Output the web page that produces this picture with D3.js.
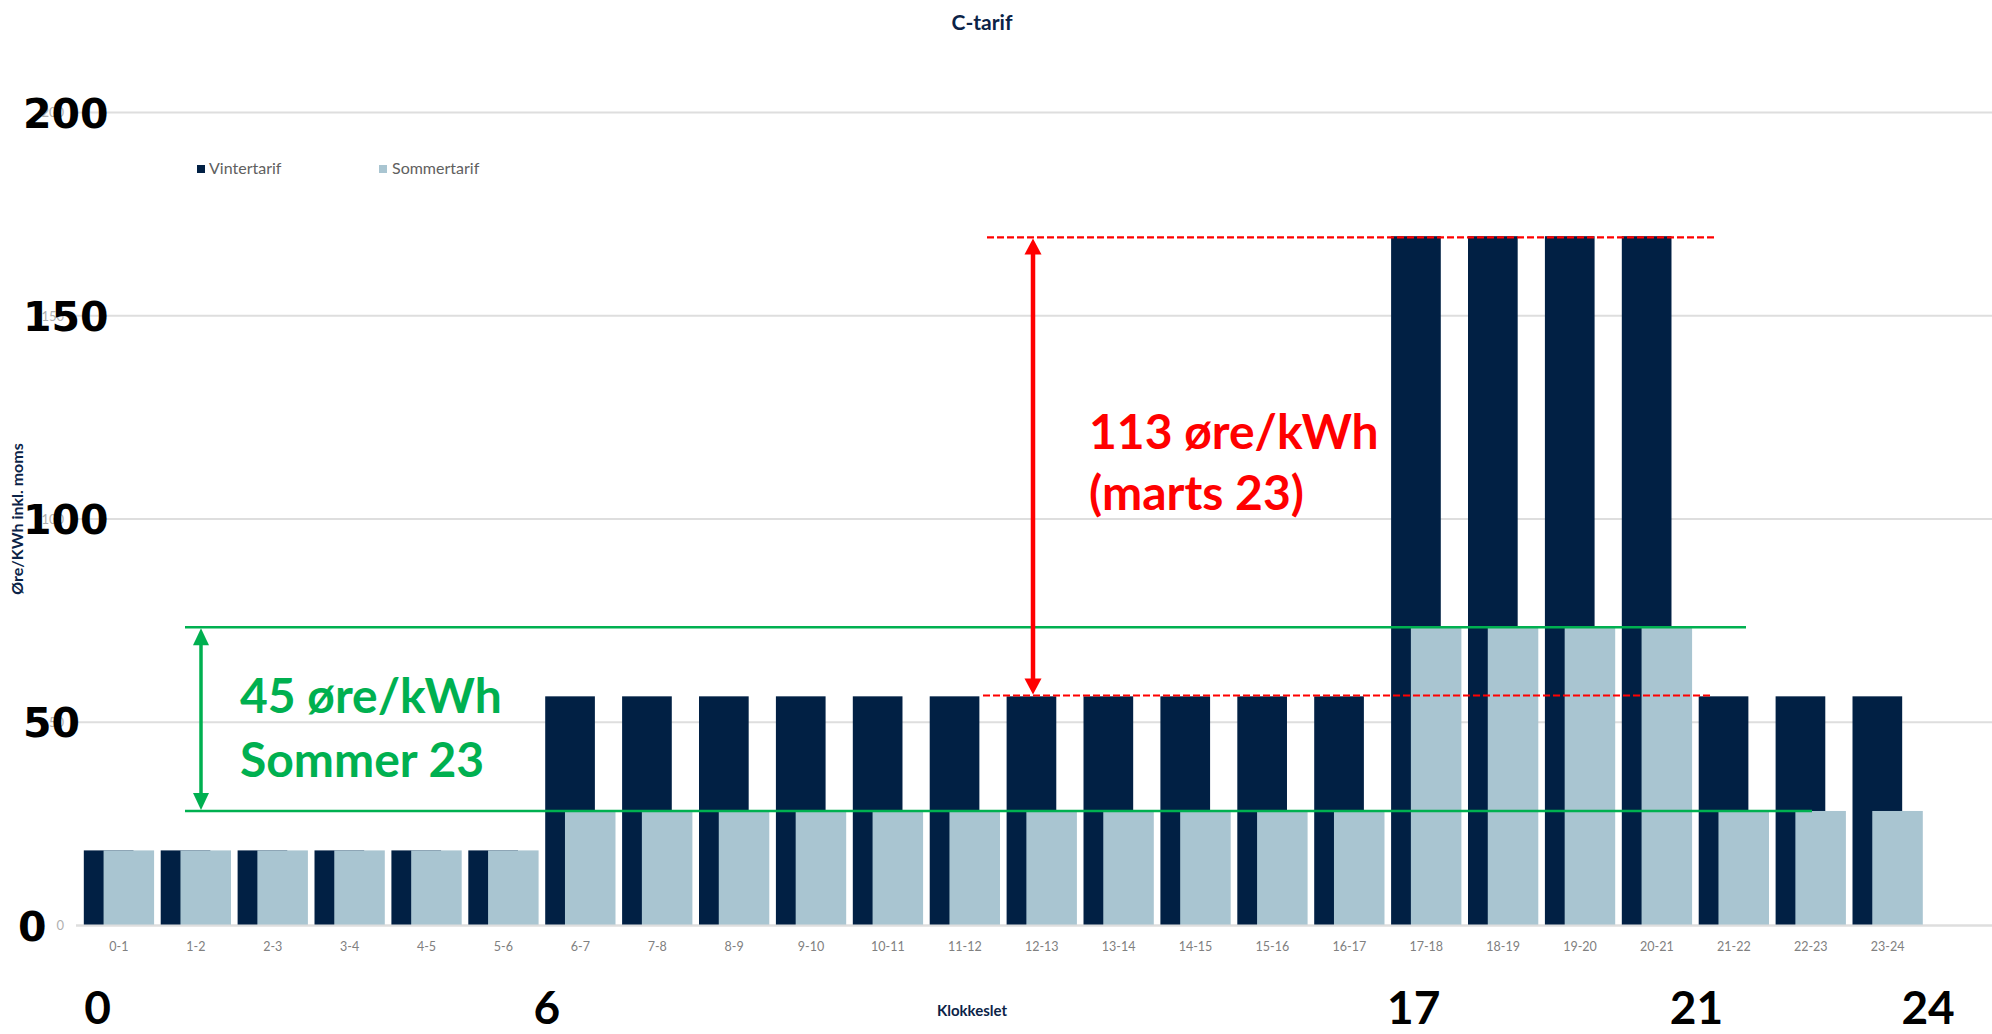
<!DOCTYPE html>
<html>
<head>
<meta charset="utf-8">
<script src="https://cdn.jsdelivr.net/npm/d3@7"></script>
<style>
  html, body { margin: 0; padding: 0; background: #ffffff; }
  svg { display: block; }
</style>
</head>
<body>
<script>
// ---------- DATA ----------
const categories = ["0-1","1-2","2-3","3-4","4-5","5-6","6-7","7-8","8-9","9-10","10-11","11-12",
                    "12-13","13-14","14-15","15-16","16-17","17-18","18-19","19-20","20-21","21-22","22-23","23-24"];
const vintertarif = [18.5, 18.5, 18.5, 18.5, 18.5, 18.5,
                     56.4, 56.4, 56.4, 56.4, 56.4, 56.4, 56.4, 56.4, 56.4, 56.4, 56.4,
                     169.6, 169.6, 169.6, 169.6,
                     56.4, 56.4, 56.4];
const sommertarif = [18.5, 18.5, 18.5, 18.5, 18.5, 18.5,
                     28.2, 28.2, 28.2, 28.2, 28.2, 28.2, 28.2, 28.2, 28.2, 28.2, 28.2,
                     73.4, 73.4, 73.4, 73.4,
                     28.2, 28.2, 28.2];
const seriesNames = ["Vintertarif", "Sommertarif"];
const yTicks = [0, 50, 100, 150, 200];
const hourMarks = [0, 6, 17, 21, 24];
const summerSpan = [28.2, 73.4];
const summerLabel = ["45 øre/kWh", "Sommer 23"];
const winterSpan = [56.6, 169.3];
const winterLabel = ["113 øre/kWh", "(marts 23)"];
const title = "C-tarif";
const yTitle = "Øre/KWh inkl. moms";
const xTitle = "Klokkeslet";

// ---------- LAYOUT ----------
const W = 1992, H = 1034;
const colors = { winter: "#012044", summer: "#a9c5d1", grid: "#dedede", green: "#00b050", red: "#ff0000", navy: "#0b2347" };
const FONT = "Lato, 'Open Sans', 'Noto Sans', sans-serif";

const svg = d3.select("body").append("svg").attr("width", W).attr("height", H);

const x = d3.scaleBand().domain(categories).range([80.5, 1926.1]).paddingInner(0).paddingOuter(0);
const bw = x.bandwidth();
const y = d3.scaleLinear().domain([0, 200]).range([925.6, 112.6]);
const hourX = d3.scaleLinear().domain([0, 24]).range([80.5, 80.5 + 24 * bw]);

// title
svg.append("text").attr("x", 982).attr("y", 30).attr("text-anchor", "middle")
  .attr("font-family", FONT).attr("font-weight", 700).attr("font-size", 21)
  .attr("fill", colors.navy).text(title);

// gridlines
svg.append("g").selectAll("line").data(yTicks).join("line")
  .attr("x1", 76).attr("x2", W).attr("y1", d => y(d)).attr("y2", d => y(d))
  .attr("stroke", colors.grid).attr("stroke-width", 2);

// small tick labels (axis)
const yAxis = d3.axisLeft(y).tickValues(yTicks).tickSize(0).tickPadding(0);
const gy = svg.append("g").attr("transform", "translate(64,0)").call(yAxis);
gy.select(".domain").remove();
gy.selectAll("text").attr("font-family", FONT).attr("font-size", 13).attr("fill", "#b0b0b0");

// bars: winter (below), summer (on top)
svg.append("g").selectAll("rect").data(categories).join("rect")
  .attr("x", d => x(d) + bw * 0.043).attr("width", bw * 0.646)
  .attr("y", (d, i) => y(vintertarif[i])).attr("height", (d, i) => y(0) - y(vintertarif[i]))
  .attr("fill", colors.winter);
svg.append("g").selectAll("rect").data(categories).join("rect")
  .attr("x", d => x(d) + bw * 0.30).attr("width", bw * 0.657)
  .attr("y", (d, i) => y(sommertarif[i])).attr("height", (d, i) => y(0) - y(sommertarif[i]))
  .attr("fill", colors.summer);

// x-axis category labels
const xAxis = d3.axisBottom(x).tickSize(0).tickPadding(0);
const gx = svg.append("g").attr("transform", `translate(0,${y(0)})`).call(xAxis);
gx.select(".domain").attr("stroke", colors.grid).attr("stroke-width", 2).attr("d", `M76,0H${W}`);
gx.selectAll("text").attr("font-family", FONT).attr("font-size", 12.5).attr("fill", "#808080")
  .attr("dy", null).attr("y", 25);

// legend
const legend = svg.append("g");
const legendItems = [
  { name: seriesNames[0], color: colors.winter, mx: 197, tx: 209 },
  { name: seriesNames[1], color: colors.summer, mx: 379, tx: 392 }
];
legend.selectAll("rect").data(legendItems).join("rect")
  .attr("x", d => d.mx).attr("y", 165).attr("width", 8).attr("height", 8).attr("fill", d => d.color);
legend.selectAll("text").data(legendItems).join("text")
  .attr("x", d => d.tx).attr("y", 174).attr("font-family", FONT).attr("font-size", 16)
  .attr("fill", "#606060").text(d => d.name);

// axis titles
svg.append("text").attr("transform", "translate(23,519) rotate(-90)").attr("text-anchor", "middle")
  .attr("font-family", FONT).attr("font-weight", 700).attr("font-size", 16)
  .attr("fill", colors.navy).text(yTitle);
svg.append("text").attr("x", 972).attr("y", 1016).attr("text-anchor", "middle")
  .attr("font-family", FONT).attr("font-weight", 700).attr("font-size", 15)
  .attr("fill", colors.navy).text(xTitle);

// green annotation
const gA = svg.append("g");
const greenLineEnds = [1812, 1746];
gA.selectAll("line").data(summerSpan).join("line")
  .attr("x1", 185).attr("x2", (d, i) => greenLineEnds[i])
  .attr("y1", d => y(d)).attr("y2", d => y(d))
  .attr("stroke", colors.green).attr("stroke-width", 2.5);

// red dashed annotation
const rA = svg.append("g");
const redStarts = [983, 987], redEnds = [1712, 1714];
rA.selectAll("line").data(winterSpan).join("line")
  .attr("x1", (d, i) => redStarts[i]).attr("x2", (d, i) => redEnds[i])
  .attr("y1", d => y(d)).attr("y2", d => y(d))
  .attr("stroke", colors.red).attr("stroke-width", 2.2).attr("stroke-dasharray", "7,3");

function doubleArrow(g, ax, yTop, yBot, color, lw, hw, hh) {
  g.append("line").attr("x1", ax).attr("x2", ax).attr("y1", yTop + hh - 2).attr("y2", yBot - hh + 2)
    .attr("stroke", color).attr("stroke-width", lw);
  g.append("path").attr("d", `M${ax},${yTop}L${ax - hw / 2},${yTop + hh}L${ax + hw / 2},${yTop + hh}Z`).attr("fill", color);
  g.append("path").attr("d", `M${ax},${yBot}L${ax - hw / 2},${yBot - hh}L${ax + hw / 2},${yBot - hh}Z`).attr("fill", color);
}
doubleArrow(gA, 201, y(summerSpan[1]) + 1, y(summerSpan[0]) - 1, colors.green, 3.5, 16, 17);
doubleArrow(rA, 1033, y(winterSpan[1]) + 1, y(winterSpan[0]) - 1, colors.red, 4.5, 17, 16);

gA.selectAll("text").data(summerLabel).join("text")
  .attr("x", 240).attr("y", (d, i) => 713 + i * 64)
  .attr("font-family", FONT).attr("font-weight", 700).attr("font-size", 48)
  .attr("fill", colors.green).text(d => d);
rA.selectAll("text").data(winterLabel).join("text")
  .attr("x", 1089).attr("y", (d, i) => 449 + i * 61)
  .attr("font-family", FONT).attr("font-weight", 700).attr("font-size", 48)
  .attr("fill", colors.red).text(d => d);

// big overlay y labels
svg.append("g").selectAll("text").data(yTicks).join("text")
  .attr("x", d => d === 0 ? 18 : 23).attr("y", d => y(d) + 15)
  .attr("font-family", "'DejaVu Sans', Verdana, sans-serif").attr("font-weight", 700).attr("font-size", 41)
  .attr("fill", "#000000").text(d => d);

// big hour labels under the axis
const hourNudge = [17, 5, 26, 1, 2];
svg.append("g").selectAll("text").data(hourMarks).join("text")
  .attr("x", (d, i) => hourX(d) + hourNudge[i]).attr("y", 1024).attr("text-anchor", "middle")
  .attr("font-family", FONT).attr("font-weight", 700).attr("font-size", 46)
  .attr("fill", "#000000").text(d => d);
</script>
</body>
</html>
